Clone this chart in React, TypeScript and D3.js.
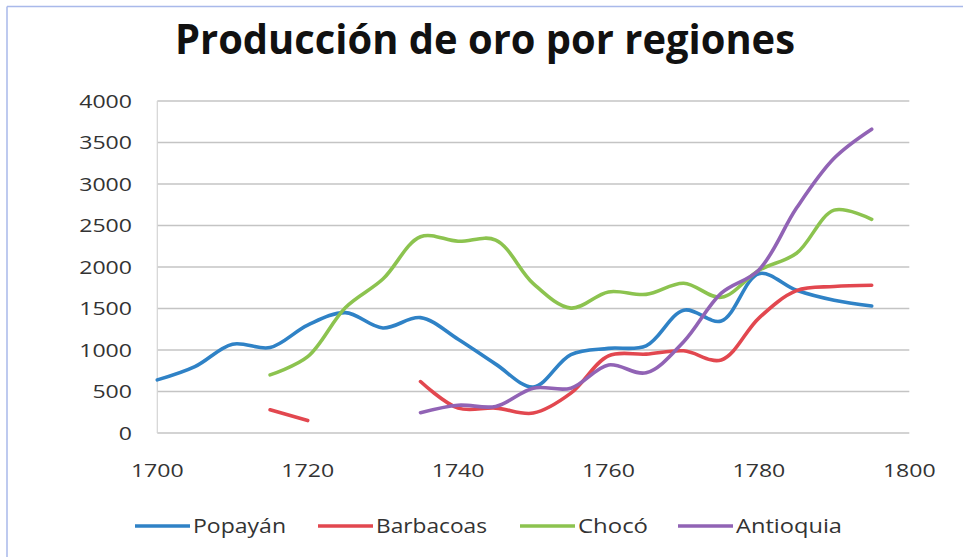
import React from "react";
import * as d3 from "d3";

const years = [1700,1705,1710,1715,1720,1725,1730,1735,1740,1745,1750,1755,1760,1765,1770,1775,1780,1785,1790,1795];
const popayan =   [640, 800,1070,1030,1300,1450,1265,1390,1130, 830, 555, 945,1020,1050,1480,1350,1920,1720,1600,1530];
const barbacoas = [null,null,null, 280, 150,null,null, 620, 300, 300, 240, 480, 930, 950, 990, 880,1385,1715,1765,1780];
const choco =     [null,null,null, 700, 920,1510,1855,2365,2310,2325,1800,1505,1700,1670,1805,1635,1960,2165,2685,2575];
const antioquia = [null,null,null,null,null,null,null, 245, 335, 320, 540, 540, 820, 725,1100,1685,1965,2710,3310,3660];

const seriesNames = ["Popayán","Barbacoas","Chocó","Antioquia"];
const seriesColors = ["#2F82C6","#E2474F","#8CC34F","#9163B5"];
const yTicks = [0,500,1000,1500,2000,2500,3000,3500,4000];
const xTicks = [1700,1720,1740,1760,1780,1800];
const title = "Producción de oro por regiones";

export default function App() {
  const x = d3.scaleLinear().domain([1700, 1800]).range([157.3, 909.3]);
  const y = d3.scaleLinear().domain([0, 4000]).range([433, 101]);
  const all = [popayan, barbacoas, choco, antioquia];
  const line = d3.line<number | null>()
    .defined((d) => d !== null)
    .x((_, i) => x(years[i]))
    .y((d) => y(d as number))
    .curve(d3.curveCatmullRom.alpha(0.5));

  const font = "'Open Sans', 'Noto Sans', sans-serif";
  const legendLineX = [135, 318, 520, 678];
  const legendTextW = [93, 111, 70, 106];

  return (
    <svg width={963} height={557} style={{ position: "absolute", left: 0, top: 0, background: "#fff" }}>
      <rect x={0} y={0} width={963} height={557} fill="#ffffff" />
      {/* frame */}
      <line x1={7} y1={6.5} x2={963} y2={6.5} stroke="#a9b9ea" strokeWidth={1.5} />
      <line x1={7} y1={6.5} x2={7} y2={557} stroke="#a9b9ea" strokeWidth={1.5} />

      <text x={175} y={54} fontFamily={font} fontWeight={700} fontSize={41} fill="#111"
        textLength={620} lengthAdjust="spacingAndGlyphs">{title}</text>

      {yTicks.map((t) => (
        <g key={t}>
          <line x1={x(1700)} x2={x(1800)} y1={y(t)} y2={y(t)} stroke="#c4c4c4" strokeWidth={1.6} />
          <text x={132} y={y(t) + 6.5} textAnchor="end" fontFamily={font} fontSize={18} fill="#333"
            textLength={String(t).length * 13.2} lengthAdjust="spacingAndGlyphs">{t}</text>
        </g>
      ))}
      <line x1={x(1700)} x2={x(1700)} y1={y(4000)} y2={y(0)} stroke="#d4d4d4" strokeWidth={1.2} />

      {xTicks.map((t) => (
        <text key={t} x={x(t)} y={477} textAnchor="middle" fontFamily={font} fontSize={18} fill="#333"
          textLength={4 * 13.2} lengthAdjust="spacingAndGlyphs">{t}</text>
      ))}

      {all.map((s, i) => (
        <path key={i} d={line(s) || ""} fill="none" stroke={seriesColors[i]} strokeWidth={3.6}
          strokeLinecap="round" strokeLinejoin="round" />
      ))}

      {seriesNames.map((n, i) => (
        <g key={n}>
          <line x1={legendLineX[i]} x2={legendLineX[i] + 55} y1={526} y2={526} stroke={seriesColors[i]} strokeWidth={3.4} />
          <text x={legendLineX[i] + 58} y={532.5} fontFamily={font} fontSize={20} fill="#333"
            textLength={legendTextW[i]} lengthAdjust="spacingAndGlyphs">{n}</text>
        </g>
      ))}
    </svg>
  );
}
